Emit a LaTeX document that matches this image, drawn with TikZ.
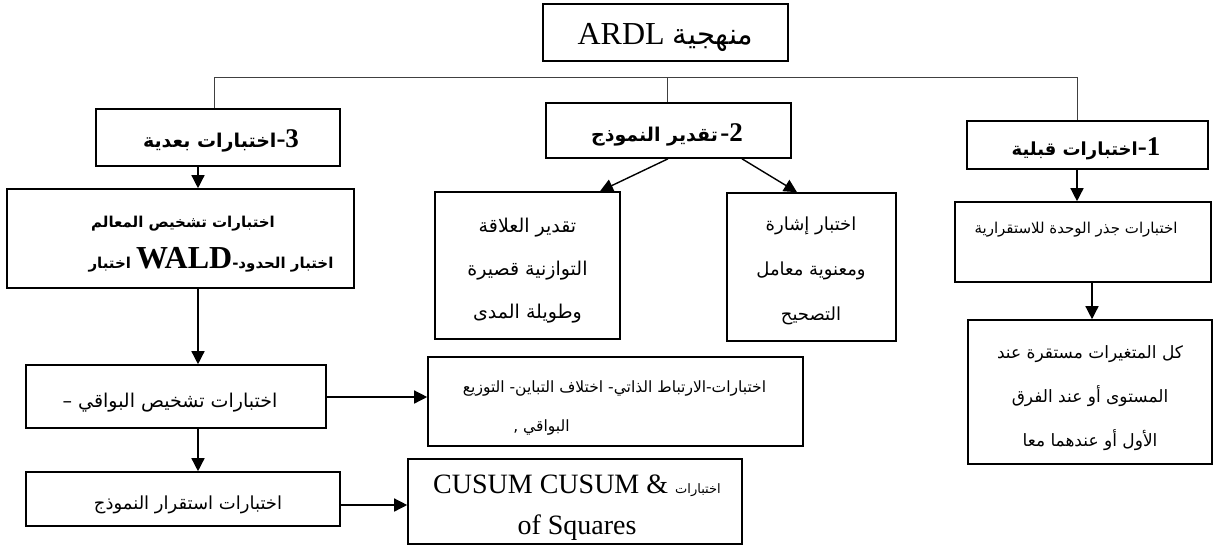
\documentclass[tikz,border=0pt]{standalone}
\usepackage{fontspec}
\setmainfont{Liberation Serif}
\newfontfamily\arfont[Script=Arabic]{DejaVu Sans}
\TeXXeTstate=1
\usetikzlibrary{arrows.meta}
\newcommand\rtltext[1]{\beginR #1\endR}
\tikzset{
  box/.style={draw=black, line width=1.6pt, inner sep=0pt},
  txt/.style={inner sep=0pt, align=center},
  link/.style={line width=1pt, draw=black!75},
  arr/.style={line width=1.4pt, draw=black, -{Triangle[width=13pt,length=13pt]}},
}
\begin{document}
\begin{tikzpicture}[x=1pt, y=-1pt]
\useasboundingbox (0,0) rectangle (1214,547);
% ---------- boxes ----------
\node[box, minimum width=245pt, minimum height=57pt] (title) at (665.5,32.5) {};
\node[box, minimum width=244pt, minimum height=57pt] (h3) at (218,137.5) {};
\node[box, minimum width=245pt, minimum height=55pt] (h2) at (668.5,130.5) {};
\node[box, minimum width=241pt, minimum height=48pt] (h1) at (1087.5,145) {};
\node[box, minimum width=347pt, minimum height=99pt] (wald) at (180.5,238.5) {};
\node[box, minimum width=300pt, minimum height=63pt] (resid) at (176,396.5) {};
\node[box, minimum width=314pt, minimum height=54pt] (stab) at (183,499) {};
\node[box, minimum width=185pt, minimum height=147pt] (est) at (527.5,265.5) {};
\node[box, minimum width=169pt, minimum height=148pt] (sign) at (811.5,267) {};
\node[box, minimum width=375pt, minimum height=89pt] (restests) at (615.5,401.5) {};
\node[box, minimum width=334pt, minimum height=85pt] (cusum) at (575,501.5) {};
\node[box, minimum width=256pt, minimum height=80pt] (unit) at (1083,242) {};
\node[box, minimum width=244pt, minimum height=144pt] (kul) at (1090,392) {};
% ---------- texts ----------
\node[txt] (title-t) at (665.5,37)
  {\fontsize{32}{36}\selectfont ARDL {\arfont\fontsize{29}{36}\selectfont\rtltext{منهجية}}};
\node[txt] (h3-t) at (221,141)
  {{\arfont\bfseries\fontsize{19}{24}\selectfont\rtltext{اختبارات بعدية}}{\bfseries\fontsize{27}{30}\selectfont -3}};
\node[txt] (h2-t) at (667,135)
  {{\arfont\bfseries\fontsize{19}{24}\selectfont\rtltext{تقدير النموذج}}\ {\bfseries\fontsize{27}{30}\selectfont -2}};
\node[txt] (h1-t) at (1086,149)
  {{\arfont\bfseries\fontsize{18}{24}\selectfont\rtltext{اختبارات قبلية}}{\bfseries\fontsize{27}{30}\selectfont -1}};
\node[txt, font=\arfont\bfseries\fontsize{15}{41}\selectfont] (wald-t) at (211,244)
  {\rtltext{اختبارات تشخيص المعالم}\hspace{56pt}\null\\
   \rtltext{اختبار}\ {\rmfamily\fontsize{32}{41}\selectfont WALD}-\rtltext{اختبار الحدود}};
\node[txt, font=\arfont\fontsize{19}{24}\selectfont] (resid-t) at (170,403)
  {–\ \rtltext{اختبارات تشخيص البواقي}};
\node[txt, font=\arfont\fontsize{18}{24}\selectfont] (stab-t) at (188,505)
  {\rtltext{اختبارات استقرار النموذج}};
\node[txt, font=\arfont\fontsize{19}{43}\selectfont] (est-t) at (527.5,271)
  {\rtltext{تقدير العلاقة}\\ \rtltext{التوازنية قصيرة}\\ \rtltext{وطويلة المدى}};
\node[txt, font=\arfont\fontsize{18}{45}\selectfont] (sign-t) at (811,271)
  {\rtltext{اختبار إشارة}\\ \rtltext{ومعنوية معامل}\\ \rtltext{التصحيح}};
\node[txt, font=\arfont\fontsize{15.5}{39}\selectfont] (restests-t) at (614.5,408)
  {\rtltext{اختبارات-الارتباط الذاتي- اختلاف التباين- التوزيع}\\ \rtltext{البواقي ,}\hspace{146pt}\null};
\node[txt, font=\fontsize{28}{41}\selectfont] (cusum-t) at (577,508)
  {CUSUM CUSUM \& {\arfont\fontsize{13}{41}\selectfont\rtltext{اختبارات}}\\ of Squares};
\node[txt, font=\arfont\fontsize{15}{18}\selectfont] (unit-t) at (1076,230)
  {\rtltext{اختبارات جذر الوحدة للاستقرارية}};
\node[txt, font=\arfont\fontsize{17}{44}\selectfont] (kul-t) at (1090,398)
  {\rtltext{كل المتغيرات مستقرة عند}\\ \rtltext{المستوى أو عند الفرق}\\ \rtltext{الأول أو عندهما معا}};
% ---------- helper coordinates ----------
\coordinate (t1) at (214,77);
\coordinate (t2) at (667,77);
\coordinate (t3) at (1077,77);
\coordinate (xa) at (198,0);
\coordinate (xb1) at (668,0);
\coordinate (xb2) at (600,0);
\coordinate (xc1) at (742,0);
\coordinate (xc2) at (797,0);
\coordinate (xd) at (1077,0);
\coordinate (xe) at (1092,0);
\coordinate (ya) at (0,397);
\coordinate (yb) at (0,505);
% ---------- tree lines ----------
\draw[link] (h3.north -| t1) -- (t1) -- (t3) -- (h1.north -| t3);
\draw[link] (t2) -- (h2.north -| t2);
% ---------- arrows ----------
\draw[arr] (h3.south -| xa) -- (wald.north -| xa);
\draw[arr] (wald.south -| xa) -- (resid.north -| xa);
\draw[arr] (resid.south -| xa) -- (stab.north -| xa);
\draw[arr] (resid.east |- ya) -- (restests.west |- ya);
\draw[arr] (stab.east |- yb) -- (cusum.west |- yb);
\draw[arr] (h2.south -| xb1) -- (est.north -| xb2);
\draw[arr] (h2.south -| xc1) -- (sign.north -| xc2);
\draw[arr] (h1.south -| xd) -- (unit.north -| xd);
\draw[arr] (unit.south -| xe) -- (kul.north -| xe);
\end{tikzpicture}
\end{document}
